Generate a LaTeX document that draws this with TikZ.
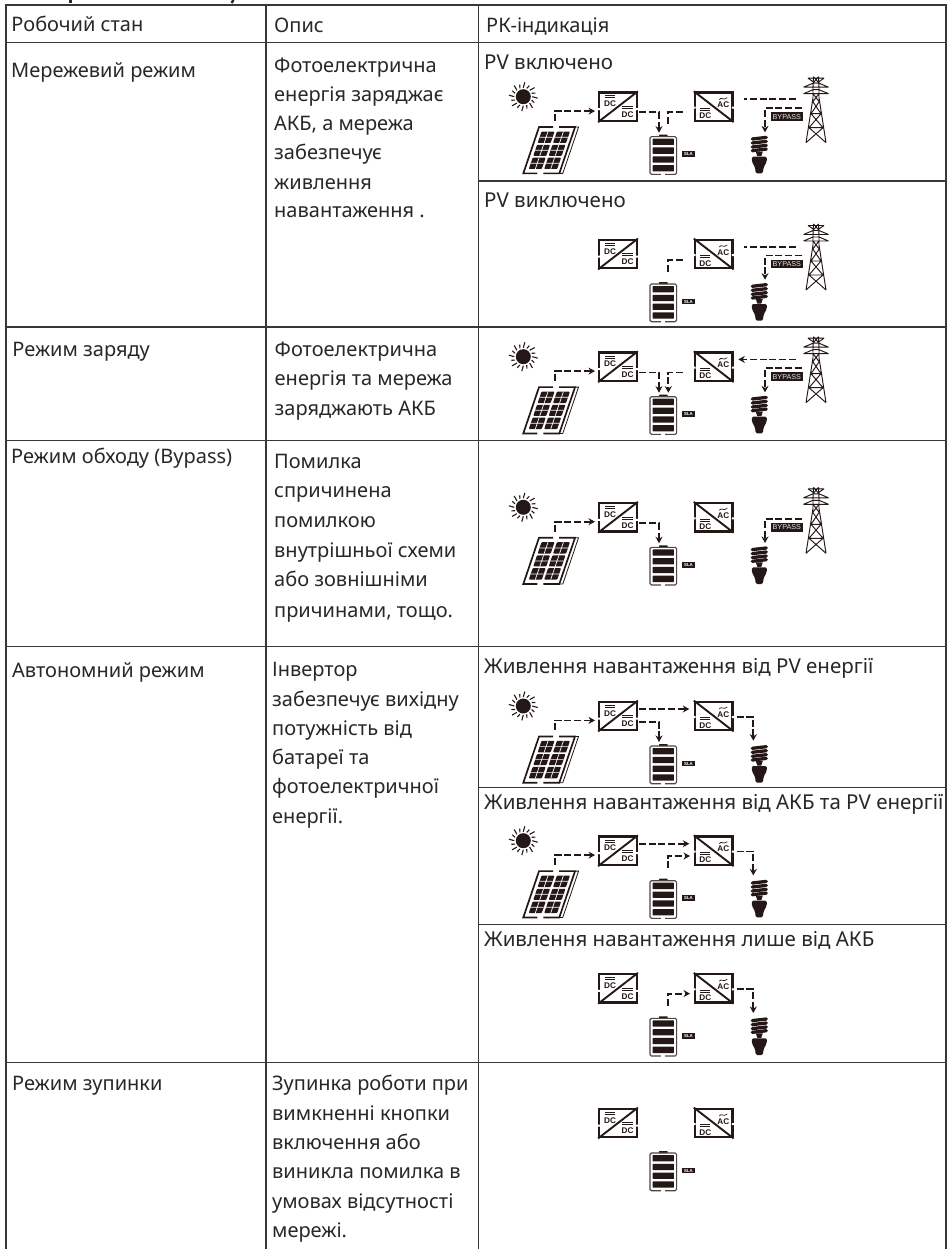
\documentclass[tikz,border=0pt]{standalone}
\usepackage{fontspec}
\usetikzlibrary{arrows.meta,calc}
\setmainfont{Noto Sans}
\newfontfamily\lblfont{Liberation Sans}
\definecolor{ink}{HTML}{2B2726}
\definecolor{rule}{HTML}{3B3734}
\definecolor{icon}{HTML}{231815}
\tikzset{
  gridline/.style={draw=rule,line width=1.4pt},
  lbl/.style={anchor=base west,inner sep=0pt,text=ink,font=\fontsize{20}{20}\selectfont},
  lblb/.style={lbl,font=\fontsize{20.5}{20.5}\selectfont},
  flow/.style={draw=icon,line width=1.8pt,dash pattern=on 7pt off 2.8pt},
  tipflow/.style={flow,-{Stealth[length=6.5pt,width=7pt]}},
  conv/.style={draw=icon,line width=2.3pt,minimum width=37.5pt,minimum height=28.5pt,inner sep=0pt},
  dclbl/.style={inner sep=0pt,text=icon,font=\lblfont\bfseries\fontsize{8.2}{8.2}\selectfont},
  tag/.style={fill=icon,text=white,inner sep=0pt,font=\lblfont\bfseries},
  cell/.style={fill=icon,draw=none,rounded corners=0.8pt},
  thinl/.style={draw=icon,line width=1pt},
  panelframe/.style={draw=icon,line width=1.7pt}
}
% converters and battery, common to every row
\newcommand{\coreicon}[2]{%
\begin{scope}[shift={(598.3,#2)},name prefix=#1-]
  \node[conv] (dc) at (19.7,15) {};
  \draw[icon,line width=1.9pt] (dc.south west) -- (dc.north east);
  \fill[white] (-1.5,16.5) rectangle (1.5,18.5) (37.9,16.5) rectangle (40.9,18.5);
  \draw[thinl] (6.7,4.3) -- (16.7,4.3) (6.7,6.3) -- (16.7,6.3) (24,14.7) -- (34.3,14.7) (24,16.7) -- (34.3,16.7);
  \node[dclbl] (dca) at (11.7,12.2) {DC};
  \node[dclbl] (dcb) at (29.3,23) {DC};
  \node[conv] (ac) at (115.4,15) {};
  \draw[icon,line width=1.9pt] (ac.north west) -- (ac.south east);
  \fill[white] (94.2,15) rectangle (97.2,17) (133.6,15) rectangle (136.6,17);
  \draw[thinl] (102,16.7) -- (112,16.7) (102,18.7) -- (112,18.7);
  \draw[icon,line width=0.7pt] (121,8) .. controls (123,4.5) and (125,9.5) .. (129,6);
  \node[dclbl] (acb) at (125,13.4) {AC};
  \node[dclbl] (aca) at (107,24.3) {DC};
  % battery
  \fill[icon,rounded corners=0.6pt] (60.7,43) rectangle (69.4,45.2);
  \node[inner sep=0pt,minimum width=26.7pt,minimum height=37.7pt,draw=icon!80,line width=1.1pt,rounded corners=1.5pt] (bat) at (65,63.85) {};
  \foreach \yy in {47,55.8,64.6,73.4} \fill[icon,rounded corners=0.5pt] (54.4,\yy) rectangle (75.6,\yy+6.3);
  \fill[white] (63,81.5) rectangle (67,84);
  \node[tag,minimum width=13pt,minimum height=5.7pt,font=\lblfont\bfseries\fontsize{4.4}{4.4}\selectfont] (sla) at (90.2,62.6) {SLA};
  \coordinate (dcin) at (-3.3,19.4);
  \coordinate (dcout) at (41,20.7);
  \coordinate (dcupper) at (40.5,8);
  \coordinate (acin) at (91,8);
  \coordinate (acinlow) at (91.7,20.3);
  \coordinate (acleft) at (84.7,20.7);
  \coordinate (acright) at (140,7.7);
  \coordinate (acoutr) at (138.3,15.7);
  \coordinate (battl) at (60.7,41);
  \coordinate (battr) at (70,41);
  \coordinate (battstub) at (70,33);
  \coordinate (battup) at (69.4,32.7);
\end{scope}}
% sun and solar panel
\newcommand{\pvicon}[2]{%
\begin{scope}[shift={(598.3,#2)},name prefix=#1-]
  \node[circle,fill=icon,minimum size=15pt,inner sep=0pt] (sun) at (-75,5) {};
  \foreach \a/\r in {0/14.5,22.5/12.5,45/14.5,67.5/12.5,90/14.5,112.5/12.5,135/14.5,157.5/12.5,180/14.5,202.5/12.5,225/14.5,247.5/12.5,270/14.5,292.5/12.5,315/14.5,337.5/12.5}
    \draw[icon,line width=1.1pt] ($(sun)+(\a:9)$) -- ($(sun)+(\a+6:\r)$);
  \begin{scope}[shift={(-75,81.7)},xslant=0.34]
    \draw[panelframe] (14,0) -- (0,0) -- (0,-46.3) -- (14,-46.3);
    \draw[panelframe] (20,0) -- (36,0) -- (36,-46.3) -- (20,-46.3);
    \draw[icon,line width=0.8pt] (36,-46.3) -- (39.5,-46.3) -- (39.5,0) -- (36,0);
    \foreach \ya/\yb in {-4.4/-15.8,-17.6/-28.6,-30.4/-41.8}{
      \fill[cell] (4,\ya) rectangle (17,\yb);
      \fill[cell] (19.4,\ya) rectangle (32.4,\yb);
      \draw[white,line width=0.7pt] (4,{(\ya+\yb)/2}) -- (17,{(\ya+\yb)/2}) (19.4,{(\ya+\yb)/2}) -- (32.4,{(\ya+\yb)/2}) (10.5,\ya) -- (10.5,\yb) (25.9,\ya) -- (25.9,\yb);
    }
    \coordinate (pvtop) at (16.6,-46.3);
  \end{scope}
  \coordinate (pvout) at (-43.6,29.4);
\end{scope}}
% lamp
\newcommand{\bulbicon}[2]{%
\begin{scope}[shift={(598.3,#2)},name prefix=#1-]
  \coordinate (bulb) at (161,44);
  \foreach \yy in {46.5,50.5,54.5,58.2}
    \draw[icon,line width=3.3pt,line cap=round] (154,\yy+0.8) -- (168,\yy-0.8);
  \fill[icon] (157.5,60) -- (164.5,60) -- (163,64.5) -- (159,64.5) -- cycle;
  \fill[icon,rounded corners=1.5pt] (153.4,65) -- (168.6,65) -- (168.4,70) -- (165.2,76) -- (164.6,81.7) -- (157.4,81.7) -- (156.8,76) -- (153.6,70) -- cycle;
\end{scope}}
% pylon with the bypass tag
\newcommand{\towericon}[2]{%
\begin{scope}[shift={(598.3,#2)},name prefix=#1-]
  \node[tag,minimum width=31.7pt,minimum height=8.7pt,text=white!88!black,font=\lblfont\fontsize{7.2}{7.2}\selectfont] (bypass) at (188.5,25.05) {BYPASS};
  \begin{scope}[shift={(217.7,0)}]
    \draw[icon,line width=0.95pt]
      (-2.5,-15) -- (-3,-4) -- (-3,6) -- (-10,51)
      (2.5,-15) -- (3,-4) -- (3,6) -- (10,51)
      (-8,-13.5) -- (8,-13.5) (-8,-13.5) -- (-3,-10) (8,-13.5) -- (3,-10)
      (-12.5,-4.5) -- (12.5,-4.5) (-12.5,-4.5) -- (-3,-8.5) -- (3,-8.5) -- (12.5,-4.5)
      (-12.5,2) -- (12.5,2) (-12.5,2) -- (-3,-2) -- (3,-2) -- (12.5,2)
      (-2.5,-15) -- (3,-8.5) (2.5,-15) -- (-3,-8.5)
      (-3,2) -- (3.2,10) (3,2) -- (-3.2,10)
      (-3.2,10) -- (5,22) (3.2,10) -- (-5,22) (-5,22) -- (5,22)
      (-5,22) -- (7,36) (5,22) -- (-7,36) (-7,36) -- (7,36)
      (-7,36) -- (10,51) (7,36) -- (-10,51);
  \end{scope}
  \coordinate (towerin) at (197.7,7.7);
  \coordinate (towerby) at (203.7,16.4);
  \coordinate (bulbby) at (166.7,40.7);
\end{scope}}
% connectors between the parts of one row
\newcommand{\linkpvdc}[1]{\draw[tipflow] (#1-pvout) |- (#1-dcin);}
\newcommand{\linkdcbat}[1]{\draw[tipflow] (#1-dcout) -| (#1-battl);}
\newcommand{\linkacbatstub}[1]{\draw[flow] (#1-acleft) -| (#1-battstub);}
\newcommand{\linkacbat}[1]{\draw[tipflow] (#1-acleft) -| (#1-battr);}
\newcommand{\linkgridstub}[1]{\draw[flow] (#1-towerin) -- ($(#1-acright)+(5.7,0)$);}
\newcommand{\linkgridac}[1]{\draw[tipflow] (#1-towerin) -- (#1-acright);}
\newcommand{\linkbypass}[1]{\draw[tipflow] (#1-towerby) -| (#1-bulbby);}
\newcommand{\linkdcac}[1]{\draw[tipflow] (#1-dcupper) -- (#1-acin);}
\newcommand{\linkacbulb}[1]{\draw[tipflow] (#1-acoutr) -| ($(#1-bulb)+(-6,-4.3)$);}
\newcommand{\linkbatac}[1]{\draw[tipflow] (#1-battup) |- (#1-acinlow);}
\begin{document}
\begin{tikzpicture}[x=1pt,y=-1pt]
\useasboundingbox (0,0) rectangle (952,1249);
\fill[white] (0,0) rectangle (952,1249);
% fragments of the heading cut off above the table
\draw[ink,line width=2.4pt] (70.5,0) -- (70.5,3);
\draw[ink,line width=2.4pt] (233.5,0) -- (231.5,3);
% table rules
\draw[gridline] (6,1249) -- (6,5) -- (946,5) -- (946,1249);
\draw[gridline] (266,5) -- (266,1249);
\draw[gridline] (478.5,5) -- (478.5,1249);
\foreach \yy in {42.3,326.8,440.7,646.7,1062.5} \draw[gridline] (6,\yy) -- (946,\yy);
\foreach \yy in {181,787.7,924.3} \draw[gridline] (478.5,\yy) -- (946,\yy);
% header
\node[lbl] (h1) at (11.3,31.7) {Робочий стан};
\node[lbl] (h2) at (274,32.3) {Опис};
\node[lbl] (h3) at (486,32.3) {РК-індикація};
% first column
\node[lbl] (m1) at (11,77.5) {Мережевий режим};
\node[lbl] (m2) at (12.3,356.8) {Режим заряду};
\node[lbl] (m3) at (11,463.9) {Режим обходу (Bypass)};
\node[lbl] (m4) at (12,677) {Автономний режим};
\node[lbl] (m5) at (12,1090.8) {Режим зупинки};
% second column
\foreach \t/\yy [count=\i] in {Фотоелектрична/72.1,енергія заряджає/101.4,{АКБ, а мережа}/130.4,забезпечує/159.6,живлення/189.3,навантаження ./217.9}
  \node[lbl] (da\i) at (274,\yy) {\t};
\foreach \t/\yy [count=\i] in {Фотоелектрична/356.8,енергія та мережа/385.9,заряджають АКБ/415.7}
  \node[lbl] (db\i) at (274.5,\yy) {\t};
\foreach \t/\yy [count=\i] in {Помилка/468.6,спричинена/497.9,помилкою/527.5,внутрішньої схеми/557,або зовнішніми/586.4,{причинами, тощо.}/617}
  \node[lbl] (dc\i) at (274,\yy) {\t};
\foreach \t/\yy [count=\i] in {Інвертор/676,забезпечує вихідну/706,потужність від/735,батареї та/764.4,фотоелектричної/793.8,енергії./823.2}
  \node[lbl] (dd\i) at (272,\yy) {\t};
\foreach \t/\yy [count=\i] in {Зупинка роботи при/1090.8,вимкненні кнопки/1120,включення або/1149.5,виникла помилка в/1178.8,умовах відсутності/1208.2,мережі./1237}
  \node[lbl] (de\i) at (272,\yy) {\t};
% third column
\node[lblb] (s1) at (484,69.3) {PV включено};
\node[lblb] (s2) at (484,208) {PV виключено};
\node[lblb] (s3) at (484,673.3) {Живлення навантаження від PV енергії};
\node[lblb] (s4) at (484,809.3) {Живлення навантаження від АКБ та PV енергії};
\node[lblb] (s5) at (484,946) {Живлення навантаження лише від АКБ};
% row: PV on
\coreicon{r1}{91.7}\pvicon{r1}{91.7}\bulbicon{r1}{91.7}\towericon{r1}{91.7}
\linkpvdc{r1}\linkdcbat{r1}\linkacbatstub{r1}\linkgridstub{r1}\linkbypass{r1}
% row: PV off
\coreicon{r2}{239}\bulbicon{r2}{239}\towericon{r2}{239}
\linkacbatstub{r2}\linkgridstub{r2}\linkbypass{r2}
% row: charge
\coreicon{r3}{351.7}\pvicon{r3}{351.7}\bulbicon{r3}{351.7}\towericon{r3}{351.7}
\linkpvdc{r3}\linkdcbat{r3}\linkacbat{r3}\linkgridac{r3}\linkbypass{r3}
% row: bypass
\coreicon{r4}{502.3}\pvicon{r4}{502.3}\bulbicon{r4}{502.3}\towericon{r4}{502.3}
\linkpvdc{r4}\linkdcbat{r4}\linkbypass{r4}
% rows: autonomous
\coreicon{r5}{701}\pvicon{r5}{701}\bulbicon{r5}{701}
\linkpvdc{r5}\linkdcbat{r5}\linkdcac{r5}\linkacbulb{r5}
\coreicon{r6}{835.7}\pvicon{r6}{835.7}\bulbicon{r6}{835.7}
\linkpvdc{r6}\linkdcac{r6}\linkbatac{r6}\linkacbulb{r6}
\coreicon{r7}{973.3}\bulbicon{r7}{973.3}
\linkbatac{r7}\linkacbulb{r7}
% row: stop
\coreicon{r8}{1108}
\end{tikzpicture}
\end{document}
